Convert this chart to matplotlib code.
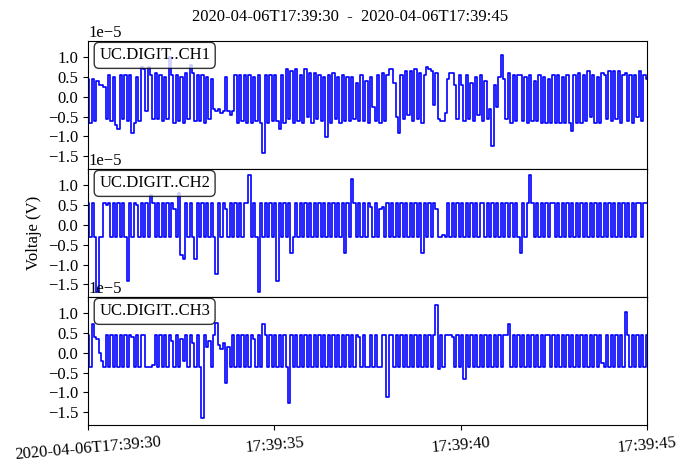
"""
Recreate a three-channel voltage trace plot (ObsPy-like layout).
"""
import matplotlib
matplotlib.use("Agg")
import matplotlib.pyplot as plt
import numpy as np

plt.rcParams["font.family"] = ["Liberation Serif", "DejaVu Serif"]
plt.rcParams["font.size"] = 12

TITLE = "2020-04-06T17:39:30  -  2020-04-06T17:39:45"
LABELS = ["UC.DIGIT..CH1", "UC.DIGIT..CH2", "UC.DIGIT..CH3"]
XTICKS = [0, 5, 10, 15]  # seconds after 17:39:30
XTICKLABELS = ["2020-04-06T17:39:30", "17:39:35", "17:39:40", "17:39:45"]
YTICKS = [-1.5e-5, -1.0e-5, -0.5e-5, 0.0, 0.5e-5, 1.0e-5]
DURATION = 15.0

# samples in microvolts (1e-6 V), 16 per second
ch1 = [
    4.5, -6.5, 4.5, -6.0, 4.0, 3.0, 3.0, 2.5, -5.5, 5.5, -6.0, 5.0, -7.0, -8.0, 5.5, -5.5,
    5.5, -6.0, 5.5, -9.0, -6.5, 5.0, -6.0, 7.5, 7.0, -3.5, 7.5, 5.5, -5.5, 6.0, -5.5, 5.5,
    -6.0, 5.0, -5.5, 10.0, 5.5, -6.5, 5.5, -6.0, 5.0, -6.5, 6.0, -5.5, 8.0, 6.0, -6.0, 5.5,
    -6.0, 5.5, -6.5, 5.0, -5.5, 4.5, -3.0, -3.5, -3.0, -4.0, -3.5, 5.0, -3.5, -4.5, -3.5, 5.5,
    -6.5, 5.5, -6.0, 5.5, -6.5, 5.5, -6.5, 5.0, -6.0, 5.5, -6.5, -14.2, 5.5, -6.5, 5.5, -6.0,
    5.5, -6.0, -8.0, 5.5, -6.5, 7.0, -5.5, 6.5, -6.5, 7.0, -6.0, 5.5, -6.5, 7.0, -5.0, 6.0,
    -6.5, 6.0, -5.5, 5.5, -6.0, 5.0, -10.2, 5.5, -6.5, 6.0, -5.5, 5.0, -6.5, 5.5, -6.0, 5.0,
    -6.0, 5.0, -5.5, 3.5, -6.0, 5.5, -6.0, 4.0, -6.5, 5.0, -2.5, -6.0, 5.5, -6.5, 6.0, -6.0,
    5.5, 7.0, 7.0, 3.5, -5.0, -9.0, 5.5, -5.5, 6.5, -4.5, 6.5, -6.0, 7.0, -5.5, 6.0, -6.5,
    5.5, 7.5, 7.0, 6.5, -2.0, 6.0, -5.5, -6.0, -6.0, -4.0, 4.5, 6.0, 6.0, 3.0, -5.5, 5.5,
    3.0, -6.0, 5.5, -5.5, 3.5, -6.0, 5.0, -4.5, 5.5, -6.0, 4.0, -5.5, -3.0, -12.5, 3.0, -2.5,
    5.0, 10.5, 4.5, -5.5, 6.0, -6.5, 5.5, -6.0, 5.5, 5.5, -6.0, 5.0, -6.5, 5.5, -6.0, 4.0,
    -6.0, 5.5, -6.5, 5.0, -6.5, 4.5, -6.5, 5.5, -6.5, 5.5, -6.5, 5.0, -6.5, 5.5, -6.5, -8.5,
    5.5, -6.5, 6.0, -6.5, 5.5, -6.0, 6.5, -5.0, 5.5, -6.5, 5.0, -6.5, 6.0, 5.5, -5.5, 6.5,
    -6.0, 6.5, -5.5, 6.5, -6.5, 5.5, 6.0, -6.0, 5.5, -6.5, 5.5, -5.0, 6.5, -6.0, 5.5, 4.5,
]
ch2 = [
    5.5, -3.0, 5.5, -3.0, -17.0, -3.0, -3.0, 5.5, 5.0, 5.5, -3.0, 5.5, -3.0, 5.5, -3.0, 5.5,
    -3.0, -14.2, 5.5, -3.0, 5.5, 5.0, -3.0, 5.5, -3.0, 5.5, -3.0, 7.5, 5.5, -3.0, 5.5, -3.0,
    5.5, -3.0, 5.5, -3.0, 5.5, 4.0, -3.0, 8.0, -7.5, -8.5, 5.5, -3.0, 5.5, -3.0, -8.5, 5.5,
    -3.0, 5.5, -3.0, 5.5, -3.0, 5.5, -3.0, -12.5, 5.5, -3.0, 5.5, 4.0, -3.0, 5.5, -3.0, 5.5,
    -3.0, 5.5, -3.0, 5.5, 5.5, 12.5, -3.0, 5.5, -3.0, -17.0, 5.5, -3.0, 5.5, -3.0, 5.5, -3.0,
    5.5, -14.2, 5.5, -3.0, 5.5, -3.0, 5.5, -7.0, -3.0, 5.5, -3.0, 5.5, -3.0, 5.5, -3.0, 5.5,
    -3.0, 5.5, -3.0, 5.5, -3.0, 5.5, -3.0, 5.5, -3.0, 5.5, -3.0, 5.5, -3.0, 5.5, -7.0, 5.5,
    -3.0, 11.5, 5.5, -3.0, 5.5, -3.0, 5.5, -3.0, 5.5, 4.5, -3.0, 5.5, -3.0, 4.0, 4.5, -3.0,
    5.5, -3.0, 5.5, -3.0, 5.5, -3.0, 5.5, -3.0, 5.5, -3.0, 5.5, -3.0, 5.5, -3.0, 5.5, -7.0,
    5.5, -3.0, 5.5, -3.0, 5.5, 4.0, -3.0, -3.0, -2.5, -3.0, 5.5, -3.0, 5.5, -3.0, 5.5, -3.0,
    5.5, -3.0, 5.5, -3.0, 5.5, -3.0, 5.5, -3.0, 5.5, 5.5, -3.0, 5.5, -3.0, 5.5, -3.0, 5.5,
    -3.0, 5.5, -3.0, 5.5, -3.0, 5.5, -3.0, 5.5, -3.0, -7.0, 5.5, -3.0, 5.5, 12.7, 5.5, -3.0,
    5.5, -3.0, 5.5, -3.0, 5.5, -3.0, 5.5, 5.5, -3.0, 5.5, -3.0, 5.5, -3.0, 5.5, -3.0, 5.5,
    -3.0, 5.5, -3.0, 5.5, -3.0, 5.5, -3.0, 5.5, -3.0, 5.5, -3.0, 5.5, -3.0, 5.5, -3.0, 5.5,
    -3.0, 5.5, -3.0, 5.5, -3.0, 5.5, -3.0, 5.5, -3.0, 5.5, -3.0, 5.5, 5.5, -3.0, 5.5, 5.5,
]
ch3 = [
    4.5, -3.5, 7.2, 4.0, 3.5, 0.0, -2.0, -3.5, 4.5, -3.5, 4.5, -3.5, 4.5, -3.5, 4.5, -3.5,
    4.5, -3.5, 4.5, 4.0, -3.5, 4.5, -3.5, 4.5, 4.5, -3.5, -3.5, -3.5, -3.0, 4.5, -3.5, 4.5,
    -3.5, 4.5, -3.5, 4.5, 3.0, -3.5, 4.5, -3.5, 3.5, -2.0, 4.5, -3.5, 4.5, 2.5, -3.5, 4.5,
    -3.5, -16.5, 4.5, 1.5, 3.0, -3.5, 4.5, 7.5, 2.0, 1.0, 2.5, -7.5, 1.5, -3.5, 4.5, -3.5,
    4.5, -3.5, 4.5, -3.5, 4.5, -3.5, 4.5, 3.5, -3.5, 4.5, -3.5, 7.2, 4.5, -3.5, 4.5, -3.5,
    4.5, -3.5, 4.5, -3.5, 4.5, -3.5, -12.7, 4.5, -3.5, 4.5, -3.5, 4.5, -3.5, 4.5, -3.5, 4.5,
    -3.5, 4.5, -3.5, 4.5, -3.5, 4.5, -3.5, 4.5, -3.5, 4.5, -3.5, 4.5, -3.5, 4.5, -3.5, 4.5,
    -3.5, 4.5, -3.5, 4.5, 4.0, -3.5, 4.5, -3.5, -3.5, 4.5, -3.5, 4.5, -3.5, -3.5, 4.5, 4.5,
    -11.1, 4.5, 4.5, -3.5, 4.5, -3.5, 4.5, -3.5, 4.5, -3.5, 4.5, -3.5, 4.5, -3.5, 4.5, -3.5,
    4.5, -3.5, 4.5, -3.5, 4.5, 12.0, -4.0, 4.5, -3.5, 4.5, 4.5, 4.5, 4.0, -3.5, 4.5, -3.5,
    4.5, -6.5, 4.5, -3.5, 4.5, -3.5, 4.5, -3.5, 4.5, -3.5, 4.5, -3.5, 4.5, -3.5, 4.5, -3.5,
    4.5, -3.5, 4.5, 4.5, 7.4, -3.5, 4.5, -3.5, 4.5, -3.5, 4.5, -3.5, 4.5, -3.5, 4.5, -3.5,
    4.5, -3.5, 4.5, -3.5, 4.5, 4.5, -3.5, 4.5, -3.5, 4.5, -3.5, 4.5, -3.5, 4.5, -3.5, 4.5,
    -3.5, 4.5, -3.5, 4.5, -3.5, 4.5, -3.5, 4.5, -3.5, 4.5, -3.5, 4.5, -2.5, -3.5, 4.5, -3.5,
    4.5, -3.5, 4.5, -3.5, 4.5, -3.5, 10.4, 4.5, -3.5, 4.5, -3.5, 4.5, -3.5, 4.5, -3.5, 4.5,
]


def main():
    fig = plt.figure(figsize=(6.91, 4.62), dpi=100)
    left, width, height = 0.1274, 0.8089, 0.2771
    bottoms = [0.6342, 0.3571, 0.0801]
    axes = []
    for i, (data, label) in enumerate(zip([ch1, ch2, ch3], LABELS)):
        ax = fig.add_axes([left, bottoms[i], width, height],
                          sharex=axes[0] if axes else None)
        y = np.asarray(data) * 1e-6
        t = np.linspace(0, DURATION, len(y))
        ax.plot(t, y, color="blue", lw=1.2, drawstyle="steps-mid")
        ax.set_xlim(0, DURATION)
        ax.set_ylim(-1.82e-5, 1.41e-5)
        ax.set_yticks(YTICKS)
        ax.text(0.02, 0.95, label, transform=ax.transAxes, va="top", ha="left",
                fontsize=12, bbox=dict(boxstyle="round", fc="w", alpha=0.8))
        ax.tick_params(axis="x", labelbottom=(i == 2))
        axes.append(ax)

    axes[-1].set_xticks(XTICKS)
    axes[-1].set_xticklabels(XTICKLABELS, rotation=5, ha="center")
    axes[1].set_ylabel("Voltaje (V)")
    fig.suptitle(TITLE, x=0.507, y=0.963, va="center", fontsize=12)
    fig.savefig("out.png", dpi=100)
    plt.close(fig)


if __name__ == "__main__":
    main()
